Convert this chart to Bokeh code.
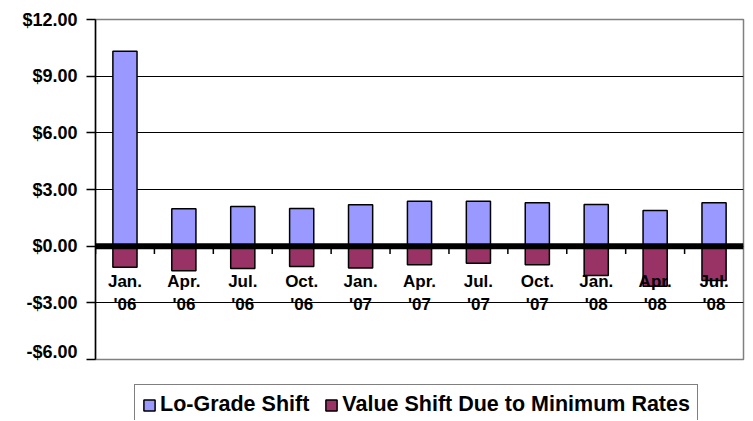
from bokeh.plotting import figure
from bokeh.layouts import column
from bokeh.models import (Range1d, FixedTicker, Span, Legend, LegendItem,
                          ColumnDataSource)
from bokeh.core.properties import value
from bokeh.embed import file_html
from bokeh.resources import INLINE

months = ["Jan.", "Apr.", "Jul.", "Oct.", "Jan.", "Apr.", "Jul.", "Oct.", "Jan.", "Apr.", "Jul."]
years = ["'06", "'06", "'06", "'06", "'07", "'07", "'07", "'07", "'08", "'08", "'08"]
lo_grade_shift = [10.32, 1.98, 2.10, 2.00, 2.19, 2.38, 2.38, 2.30, 2.21, 1.89, 2.30]
min_rate_shift = [-1.11, -1.30, -1.18, -1.08, -1.16, -0.99, -0.90, -0.99, -1.55, -2.12, -1.82]
y_ticks = [-6, -3, 0, 3, 6, 9, 12]
series_names = ["Lo-Grade Shift", "Value Shift Due to Minimum Rates"]
series_colors = ["#9999FF", "#993366"]

FONT = "Liberation Sans"

x = list(range(1, len(months) + 1))
src = ColumnDataSource(dict(x=x, lo=lo_grade_shift, mn=min_rate_shift,
                            month=months, year=years, zero=[0] * len(x)))

p = figure(width=745, height=361, output_backend="svg", toolbar_location=None,
           x_range=Range1d(0.5, len(x) + 0.5), y_range=Range1d(-6, 12),
           x_axis_location=None, min_border_left=95, min_border_top=19,
           min_border_right=2, min_border_bottom=2)

p.outline_line_color = "#808080"
p.outline_line_width = 1.5
p.xgrid.visible = False
p.ygrid.ticker = FixedTicker(ticks=y_ticks)
p.ygrid.grid_line_color = "black"
p.ygrid.grid_line_width = 1

yax = p.yaxis[0]
yax.ticker = FixedTicker(ticks=y_ticks)
yax.major_label_overrides = {t: ("-$" if t < 0 else "$") + f"{abs(t):.2f}" for t in y_ticks}
yax.major_label_text_font = FONT
yax.major_label_text_font_style = "bold"
yax.major_label_text_font_size = "18px"
yax.major_label_text_color = "black"
yax.major_tick_out = 9
yax.major_tick_in = 0
yax.minor_tick_out = 0
yax.minor_tick_in = 0
yax.major_label_standoff = 9
yax.axis_line_color = "black"
yax.axis_line_width = 1.5
yax.major_tick_line_width = 1.5

p.vbar(x="x", top="lo", bottom=0, width=0.41, source=src,
       fill_color=series_colors[0], line_color="black", line_width=1.5)
p.vbar(x="x", top="zero", bottom="mn", width=0.41, source=src,
       fill_color=series_colors[1], line_color="black", line_width=1.5)

# category separator ticks hanging from the zero line
bx = [i + 0.5 for i in range(0, len(x))]
p.segment(x0=bx, x1=bx, y0=[0] * len(bx), y1=[-0.42] * len(bx),
          line_color="black", line_width=1.5)

p.add_layout(Span(location=0, dimension="width", line_color="black", line_width=6))

p.text(x="x", y="zero", text="month", source=src, y_offset=35,
       text_align="center", text_baseline="alphabetic",
       text_font=value(FONT), text_font_style="bold", text_font_size="17px",
       text_color="black")
p.text(x="x", y="zero", text="year", source=src, y_offset=58,
       text_align="center", text_baseline="alphabetic",
       text_font=value(FONT), text_font_style="bold", text_font_size="17px",
       text_color="black")

# legend strip below the chart (its renderers use the same data but are hidden)
lf = figure(width=745, height=59, output_backend="svg", toolbar_location=None,
            x_range=Range1d(0.5, len(x) + 0.5), y_range=Range1d(-6, 12),
            x_axis_location=None, y_axis_location=None,
            min_border_left=95, min_border_right=2, min_border_top=0, min_border_bottom=0)
lf.outline_line_color = None
lf.xgrid.visible = False
lf.ygrid.visible = False
r_lo = lf.vbar(x="x", top="lo", bottom=0, width=0.41, source=src,
               fill_color=series_colors[0], line_color="black", line_width=1.5)
r_mn = lf.vbar(x="x", top="zero", bottom="mn", width=0.41, source=src,
               fill_color=series_colors[1], line_color="black", line_width=1.5)
r_lo.visible = False
r_mn.visible = False
items = [LegendItem(label=series_names[0], renderers=[r_lo]),
         LegendItem(label=series_names[1], renderers=[r_mn])]

legend = Legend(items=items, location=(39, -5), orientation="horizontal",
                label_text_font=FONT, label_text_font_style="bold",
                label_text_font_size="21.5px", label_text_color="black",
                glyph_width=14, glyph_height=14, label_standoff=4, spacing=15,
                padding=7, margin=0, border_line_color="black", border_line_width=1.5,
                background_fill_color="white", background_fill_alpha=1,
                inactive_fill_alpha=0)
lf.add_layout(legend, "center")

layout = column(p, lf, spacing=0)
open("out.html", "w").write(file_html(layout, INLINE))
